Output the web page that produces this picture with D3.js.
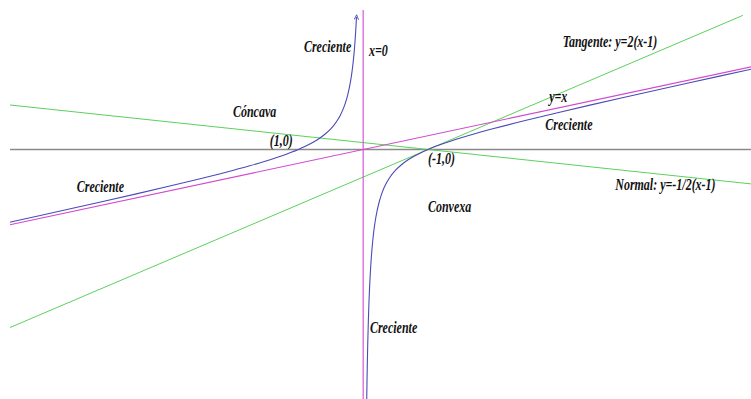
<!DOCTYPE html>
<html>
<head>
<meta charset="utf-8">
<script src="https://cdn.jsdelivr.net/npm/d3@7"></script>
<style>
  body { margin: 0; background: #fff; }
  text { font-family: "Liberation Serif", "Times New Roman", "DejaVu Serif", serif; font-style: italic; font-weight: bold; font-size: 16px; fill: #111; }
</style>
</head>
<body>
<div id="content"></div>
<script>
let width = 751;
let height = 399;

// f(x) = x - 1/x (left branch, x < 0)
let leftX = [-5.45, -5, -4.5, -4, -3.5, -3, -2.5, -2, -1.75, -1.5, -1.25, -1, -0.9, -0.8, -0.7, -0.6, -0.5, -0.45, -0.4, -0.35, -0.3, -0.27, -0.24, -0.21, -0.18, -0.16, -0.14, -0.125, -0.115, -0.108, -0.103];
let leftY = [-5.267, -4.8, -4.278, -3.75, -3.214, -2.667, -2.1, -1.5, -1.179, -0.833, -0.45, 0, 0.211, 0.45, 0.729, 1.067, 1.5, 1.772, 2.1, 2.507, 3.033, 3.434, 3.927, 4.552, 5.376, 6.09, 7.003, 7.875, 8.581, 9.151, 9.606];

// right branch, x > 0
let rightX = [0.055, 0.06, 0.065, 0.07, 0.08, 0.09, 0.1, 0.115, 0.13, 0.15, 0.175, 0.2, 0.25, 0.3, 0.35, 0.4, 0.5, 0.6, 0.7, 0.8, 0.9, 1, 1.25, 1.5, 1.75, 2, 2.5, 3, 3.5, 4, 4.5, 5, 5.5, 6];
let rightY = [-18.13, -16.607, -15.32, -14.216, -12.42, -11.021, -9.9, -8.581, -7.562, -6.517, -5.539, -4.8, -3.75, -3.033, -2.507, -2.1, -1.5, -1.067, -0.729, -0.45, -0.211, 0, 0.45, 0.833, 1.179, 1.5, 2.1, 2.667, 3.214, 3.75, 4.278, 4.8, 5.318, 5.833];

// straight lines: end points [x0, y0, x1, y1]
let asymptoteOblique = [-5.45, -5.45, 6, 6];          // y = x
let tangentLine = [-5.45, -12.9, 5.86, 9.72];          // y = 2(x-1)
let normalLine = [-5.45, 3.225, 6, -2.5];              // y = -1/2(x-1)
let asymptoteVertical = [0, -18.2, 0, 10.1];          // x = 0
let xAxisLine = [-5.45, 0, 6, 0];

// annotations (data coordinates)
let labels = [
  {text: "Creciente", x: -0.914, y: 7.07},
  {text: "x=0", x: 0.09, y: 6.78},
  {text: "Cóncava", x: -2.01, y: 2.36},
  {text: "Tangente: y=2(x-1)", x: 3.08, y: 7.43},
  {text: "y=x", x: 2.87, y: 3.44},
  {text: "Creciente", x: 2.81, y: 1.41},
  {text: "(1,0)", x: -1.44, y: 0.25},
  {text: "(-1,0)", x: 1.0, y: -1.05},
  {text: "Convexa", x: 1.0, y: -4.53},
  {text: "Normal: y=-1/2(x-1)", x: 3.89, y: -2.93},
  {text: "Creciente", x: -4.42, y: -3.08},
  {text: "Creciente", x: 0.105, y: -13.29}
];

let xScale = d3.scaleLinear()
    .domain([-5.45, 6])
    .range([10, 10 + 11.45 * 64.8]);

let yScale = d3.scaleLinear()
    .domain([-18.1, 9.9])
    .range([149.5 + 18.1 * 13.8, 149.5 - 9.9 * 13.8]);

let svg = d3.select("#content")
    .append("svg")
    .attr("width", width)
    .attr("height", height);

svg.append("defs").append("marker")
    .attr("id", "arrow")
    .attr("viewBox", "0 0 10 10")
    .attr("refX", 5)
    .attr("refY", 5)
    .attr("markerWidth", 5)
    .attr("markerHeight", 5)
    .attr("orient", "auto")
    .append("path")
    .attr("d", "M0,1 L9,5 L0,9")
    .attr("fill", "none")
    .attr("stroke", "#4a4ab8")
    .attr("stroke-width", 1.6);

function drawSegment(seg, color, w) {
    svg.append("line")
        .attr("x1", xScale(seg[0]))
        .attr("y1", yScale(seg[1]))
        .attr("x2", xScale(seg[2]))
        .attr("y2", yScale(seg[3]))
        .attr("stroke", color)
        .attr("stroke-width", w);
}

drawSegment(xAxisLine, "#8a8a8a", 1.4);
drawSegment(normalLine, "#5ad25a", 1);
drawSegment(tangentLine, "#5ad25a", 1);
drawSegment(asymptoteOblique, "#d04ad0", 1.1);
drawSegment(asymptoteVertical, "#d04ad0", 1.1);

let line = d3.line()
    .x(d => xScale(d[0]))
    .y(d => yScale(d[1]))
    .curve(d3.curveMonotoneX);

svg.append("path")
    .datum(leftX.map((x, i) => [x, leftY[i]]))
    .attr("d", line)
    .attr("fill", "none")
    .attr("stroke", "#4a4ab8")
    .attr("stroke-width", 1.1)
    .attr("marker-end", "url(#arrow)");

svg.append("path")
    .datum(rightX.map((x, i) => [x, rightY[i]]))
    .attr("d", line)
    .attr("fill", "none")
    .attr("stroke", "#4a4ab8")
    .attr("stroke-width", 1.1);

// labels are drawn condensed, like the original
svg.selectAll(".lbl")
    .data(labels)
    .enter()
    .append("g")
    .attr("class", "lbl")
    .attr("transform", d => "translate(" + xScale(d.x) + "," + yScale(d.y) + ") scale(0.75,1)")
    .append("text")
    .text(d => d.text);
</script>
</body>
</html>
